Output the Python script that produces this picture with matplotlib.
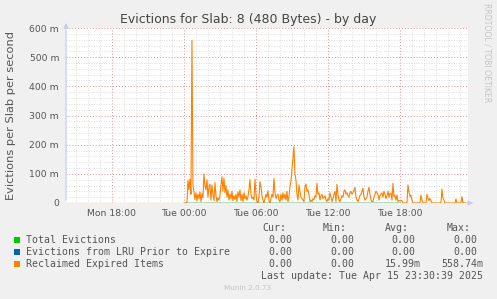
"""
plot.py
Munin style chart: memcached slab 8 evictions, by day.
"""
import matplotlib
matplotlib.use("Agg")
import matplotlib.pyplot as plt
import numpy as np
from matplotlib.ticker import MultipleLocator, FuncFormatter

# time axis in hours relative to Tue 00:00
x_start = -9.83
x_end = 23.67
tick_hours = [-6, 0, 6, 12, 18]
tick_labels = ["Mon 18:00", "Tue 00:00", "Tue 06:00", "Tue 12:00", "Tue 18:00"]

# Total Evictions / LRU evictions: flat zero while data is present
total_times = [0.17, 18.0]
total_values = [0.0, 0.0]
lru_times = [0.17, 18.0]
lru_values = [0.0, 0.0]

# Reclaimed Expired Items (milli per second), one value per 5 min from Tue 00:00
reclaimed_step_h = 5 / 60
reclaimed_m = [
    0, 0, 0, 0, 78, 45, 82, 30, 558, 60, 38, 12,        # 00h
    35, 8, 30, 15, 38, 5, 32, 18, 100, 60, 45, 80,      # 01h
    20, 55, 65, 10, 62, 30, 8, 70, 25, 5, 18, 10,       # 02h
    25, 60, 90, 40, 85, 35, 60, 20, 45, 10, 30, 15,     # 03h
    40, 8, 25, 12, 30, 5, 38, 20, 45, 8, 30, 5,         # 04h
    35, 15, 25, 10, 22, 45, 80, 30, 15, 20, 10, 81,     # 05h
    30, 5, 0, 20, 73, 55, 25, 10, 0, 15, 30, 20,        # 06h
    41, 10, 0, 15, 30, 20, 84, 35, 15, 25, 30, 10,      # 07h
    5, 30, 10, 35, 15, 30, 10, 40, 5, 20, 56, 75,       # 08h
    113, 150, 193, 100, 79, 30, 10, 62, 40, 20, 15, 10, # 09h
    5, 56, 65, 40, 45, 30, 5, 10, 5, 15, 12, 25,        # 10h
    20, 67, 30, 35, 10, 25, 30, 15, 20, 25, 10, 5,      # 11h
    15, 10, 35, 20, 5, 15, 30, 40, 5, 64, 30, 10,       # 12h
    5, 15, 25, 20, 40, 45, 30, 35, 25, 20, 35, 40,      # 13h
    30, 35, 45, 54, 20, 10, 5, 15, 25, 30, 40, 50,      # 14h
    20, 10, 15, 20, 40, 54, 30, 10, 5, 5, 20, 30,       # 15h
    40, 35, 30, 10, 25, 30, 35, 20, 40, 30, 15, 25,     # 16h
    40, 20, 33, 33, 10, 67, 22, 27, 10, 27, 5, 8,       # 17h
    8, 8, 8, 0, 0, 0, 0, 0, 62, 39, 22, 27,             # 18h
    10, 0, 0, 0, 0, 0, 0, 0, 0, 27, 10, 0,              # 19h
    0, 0, 0, 30, 16, 8, 16, 8, 0, 0, 0, 0,              # 20h
    0, 0, 0, 0, 0, 0, 48, 16, 10, 0, 0, 0,              # 21h
    0, 0, 0, 0, 0, 0, 0, 0, 14, 0, 0, 0,                # 22h
    0, 0, 22, 0, 0, 0, 0,                               # 23h
]

series_names = ["Total Evictions", "Evictions from LRU Prior to Expire", "Reclaimed Expired Items"]
series_colors = ["#00CC00", "#0066B3", "#FF8000"]
stat_cur = ["0.00", "0.00", "0.00"]
stat_min = ["0.00", "0.00", "0.00"]
stat_avg = ["0.00", "0.00", "15.99m"]
stat_max = ["0.00", "0.00", "558.74m"]

W, H = 497, 299
BG = "#F0F0F0"
TXT = "#555555"


def px(x, y):
    """pixel coords (from top-left) to figure fraction"""
    return x / W, 1 - y / H


def main():
    fig = plt.figure(figsize=(W / 100, H / 100), dpi=100, facecolor=BG)
    left, right, top, bottom = 66, 468, 28, 203
    ax = fig.add_axes([left / W, 1 - bottom / H, (right - left) / W, (bottom - top) / H])
    ax.set_facecolor("white")

    ax.set_xlim(x_start, x_end)
    ax.set_ylim(0, 600)

    # grid
    ax.xaxis.set_major_locator(MultipleLocator(6))
    ax.xaxis.set_minor_locator(MultipleLocator(1))
    ax.yaxis.set_major_locator(MultipleLocator(100))
    ax.yaxis.set_minor_locator(MultipleLocator(20))
    ax.grid(which="minor", color="#D4D4D4", linestyle=(0, (1, 2)), linewidth=0.6)
    ax.grid(which="major", color="#E09090", linestyle=(0, (1, 2)), linewidth=0.7)
    ax.set_axisbelow(True)

    ax.set_xticks(tick_hours)
    ax.set_xticklabels(tick_labels)
    ax.yaxis.set_major_formatter(FuncFormatter(lambda v, p: "0" if v == 0 else f"{v:.0f} m"))
    ax.tick_params(which="both", length=0, labelsize=6.7, colors=TXT, pad=4)
    ax.tick_params(axis="y", pad=5)
    for s in ax.spines.values():
        s.set_visible(False)

    # zero baseline
    ax.axhline(0, color="#F0A080", linewidth=0.9, zorder=2)

    # data
    t = np.arange(len(reclaimed_m)) * reclaimed_step_h
    ax.plot(t, reclaimed_m, color=series_colors[2], linewidth=0.8, zorder=3)
    ax.plot(total_times, total_values, color=series_colors[0], linewidth=1.0, zorder=4)
    ax.plot(lru_times, lru_values, color=series_colors[1], linewidth=1.0, alpha=0.6, zorder=5)

    # axis arrows
    arrow_col = "#C8CCF4"
    ax.annotate("", xy=(0, 1.045), xytext=(0, 0), xycoords="axes fraction",
                arrowprops=dict(arrowstyle="-|>", color=arrow_col, lw=0.9, mutation_scale=7),
                annotation_clip=False)
    ax.annotate("", xy=(1.02, 0), xytext=(0.995, 0), xycoords="axes fraction",
                arrowprops=dict(arrowstyle="-|>", color=arrow_col, lw=0.9, mutation_scale=7),
                annotation_clip=False)

    # titles
    fig.text(*px(248, 20), "Evictions for Slab: 8 (480 Bytes) - by day", ha="center", va="center",
             fontsize=9.0, color="#444444")
    fig.text(*px(11, 115), "Evictions per Slab per second", rotation=90, ha="center", va="center",
             fontsize=8.2, color=TXT)
    fig.text(*px(487, 53), "RRDTOOL / TOBI OETIKER", rotation=270, ha="center", va="center",
             fontsize=5.6, color="#C4C4C4")

    # legend block (monospace)
    mono = dict(family="DejaVu Sans Mono", fontsize=7.1, color=TXT, va="center")
    for x, lab in zip([262, 323, 385, 447], ["Cur:", "Min:", "Avg:", "Max:"]):
        fig.text(*px(x, 228), lab, ha="left", **mono)
    col_right = [298, 360, 421, 483]
    rows_y = [240, 252, 264]
    for i, name in enumerate(series_names):
        y = rows_y[i]
        fig.patches.append(plt.Rectangle(px(14, y + 3), 6 / W, 6 / H, transform=fig.transFigure,
                                         facecolor=series_colors[i], edgecolor="none"))
        fig.text(*px(26, y), name, ha="left", **mono)
        for xr, val in zip(col_right, [stat_cur[i], stat_min[i], stat_avg[i], stat_max[i]]):
            xr_adj = xr if val.endswith("m") else xr - 6
            fig.text(*px(xr_adj, y), val, ha="right", **mono)
    fig.text(*px(483, 276), "Last update: Tue Apr 15 23:30:39 2025", ha="right", **mono)
    fig.text(*px(248, 288), "Munin 2.0.73", ha="center", va="center", fontsize=5.2, color="#C4C4C4")

    fig.savefig("out.png", dpi=100, facecolor=BG)
    plt.close(fig)


if __name__ == "__main__":
    main()
